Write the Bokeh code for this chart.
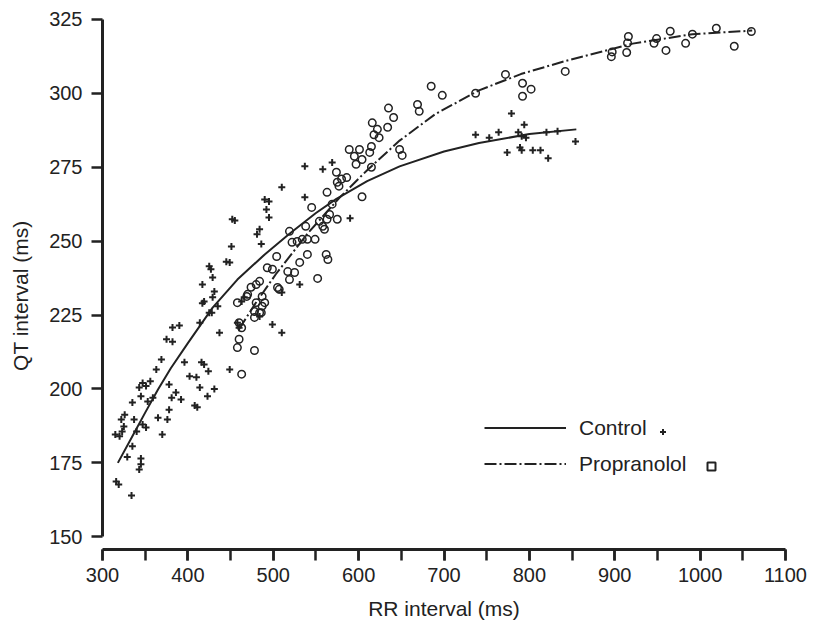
from bokeh.plotting import figure
from bokeh.models import Range1d, SingleIntervalTicker, Legend, LegendItem
from bokeh.core.properties import value
from bokeh.embed import file_html
from bokeh.resources import INLINE

# ---- data ----
control_rr = [316, 319, 334, 343, 345, 345, 335, 329, 315, 320, 323, 325, 322, 326, 335, 337, 340, 347, 351,
              343, 347, 351, 345, 356, 353, 359, 365, 370, 376, 378, 381, 378, 386, 392, 363, 369, 375, 382,
              382, 390, 396, 402, 410, 408, 411, 416, 419, 414, 423, 424, 431, 414, 437, 449, 417, 428, 435,
              499, 510, 417, 429, 419, 431, 425, 458, 463, 466, 531, 484, 460, 425, 427, 449, 451, 452, 484,
              481, 486, 495, 490, 495, 492, 510, 537, 558, 569, 537, 590, 737, 779, 794, 753, 764, 787, 791,
              796, 774, 789, 791, 804, 813, 822, 820, 833, 854, 455, 510, 445, 429]
control_qt = [168.7, 167.7, 164, 172.8, 174.5, 176.5, 180.6, 177, 184.6, 184, 185.6, 187.3, 189.7, 191.3, 195.4,
              189.7, 185.6, 188, 187, 200.5, 202, 201, 197.5, 202.6, 195.8, 197, 190.3, 184.6, 189.7, 193, 197,
              201.5, 198.8, 196.4, 206.6, 210, 216.8, 216, 220.8, 221.5, 209, 204.3, 204, 194.4, 193.8, 209,
              208.3, 200.5, 197.5, 206, 200, 222.4, 219, 206.6, 229, 225.8, 228, 221.8, 219, 235.3, 237.7,
              229.6, 233, 225.8, 222.4, 229.6, 231, 235.3, 224.5, 220.7, 241.5, 240.5, 242.8, 248.2, 257.4,
              254, 252.3, 249, 258, 264.1, 263.4, 260.7, 268.2, 275.3, 274.3, 276.6, 264.8, 257.7, 286, 293.2,
              289.4, 285, 286.8, 286.8, 285.5, 285, 280, 281.7, 280.7, 280.7, 280.7, 278, 286.8, 287.2, 283.7,
              257, 232.6, 243, 231]

prop_rr = [463, 458, 460, 478, 478, 486, 460, 463, 487, 458, 470, 474, 480, 484, 487, 490, 480, 478, 484, 505,
           507, 519, 525, 552, 469, 493, 499, 504, 517, 519, 522, 528, 534, 540, 549, 540, 562, 564, 545, 538,
           554, 560, 563, 563, 569, 574, 575, 531, 566, 558, 575, 580, 577, 586, 589, 601, 595, 604, 597, 613,
           615, 615, 616, 622, 624, 618, 635, 641, 634, 648, 651, 604, 669, 671, 698, 685, 737, 772, 792, 802,
           792, 842, 896, 897, 914, 916, 915, 946, 949, 960, 965, 983, 991, 1019, 1040, 1060]
prop_qt = [205, 214, 216.8, 213, 224.2, 225.8, 222.4, 220.7, 228, 229.2, 232, 234.4, 235.3, 236.4, 231.3, 229.2,
           229.2, 226.2, 225.8, 234.3, 233.7, 237, 239.4, 237.4, 231.3, 241, 240.5, 244.8, 239.7, 253.3, 249.6,
           249.9, 250.6, 250.6, 250.6, 245.5, 245.5, 243.8, 261.4, 255, 256.7, 254, 257.4, 266.5, 262.5, 273.3,
           269.9, 242.8, 259, 255, 257.4, 271, 268.6, 271.5, 281, 281, 278.7, 277.6, 276, 280, 282, 275, 290,
           287.8, 285, 286, 295, 291.8, 288.5, 281, 279, 265, 296.2, 293.9, 299.3, 302.4, 300, 306.4, 303.4,
           301.4, 299, 307.4, 312.4, 314, 313.8, 319.2, 317, 316.9, 318.5, 314.5, 321, 316.9, 320, 322, 315.9,
           320.9]

control_fit_rr = [318, 335, 350, 365, 380, 400, 429, 458, 490, 519, 550, 574, 610, 648, 700, 741, 800, 855]
control_fit_qt = [175, 184, 192, 199.8, 207, 215.5, 227.5, 237, 245.5, 252.5, 259.5, 264.3, 270.3, 275.3,
                  280.3, 283.2, 286.2, 287.8]

prop_fit_rr = [460, 480, 503, 540, 577, 610, 648, 690, 741, 790, 843, 921, 991, 1061]
prop_fit_qt = [220.3, 229.3, 238.8, 252.5, 264.5, 274, 284, 293, 301, 306.5, 311, 316.8, 320, 321.2]

x_ticks_interval = 100
y_ticks_interval = 25

INK = "#222222"
FONT = "Liberation Sans"

p = figure(width=812, height=626,
           x_range=Range1d(300, 1100), y_range=Range1d(145.7, 325.3),
           output_backend="svg", toolbar_location=None,
           min_border_left=102, min_border_right=27, min_border_top=18, min_border_bottom=77)
p.grid.visible = False
p.outline_line_color = None
p.background_fill_color = "white"
p.border_fill_color = "white"

# fitted curves
control_line = p.line(control_fit_rr, control_fit_qt, line_color=INK, line_width=2)
prop_line = p.line(prop_fit_rr, prop_fit_qt, line_color=INK, line_width=2, line_dash="12 3 2 3")

# data points
control_pts = p.scatter(control_rr, control_qt, marker="cross", size=7, line_color=INK, line_width=2)
prop_pts = p.scatter(prop_rr, prop_qt, marker="circle", size=7.5, fill_color=None, line_color=INK, line_width=1.5)
# legend key only (not a data point): a single NaN so nothing is drawn in the plot area
square_key = p.scatter(x=[float("nan")], y=[float("nan")], marker="square", size=8,
                       fill_color=None, line_color=INK, line_width=2)

# axes
xa = p.xaxis[0]
xa.ticker = SingleIntervalTicker(interval=x_ticks_interval, num_minor_ticks=2)
xa.bounds = (300, 1100)
xa.axis_label = "RR interval (ms)"
ya = p.yaxis[0]
ya.ticker = SingleIntervalTicker(interval=y_ticks_interval, num_minor_ticks=0)
ya.bounds = (150, 325)
ya.axis_label = "QT interval (ms)" + "\u00a0" * 4

for ax in (xa, ya):
    ax.axis_line_color = INK
    ax.axis_line_width = 3
    ax.major_tick_line_color = INK
    ax.major_tick_line_width = 2.5
    ax.major_tick_out = 11
    ax.major_tick_in = 0
    ax.minor_tick_line_color = INK
    ax.minor_tick_line_width = 2.5
    ax.minor_tick_out = 11
    ax.minor_tick_in = 0
    ax.major_label_text_font = FONT
    ax.major_label_text_font_size = "20px"
    ax.major_label_text_color = INK
    ax.axis_label_text_font = FONT
    ax.axis_label_text_font_size = "21px"
    ax.axis_label_text_font_style = "normal"
    ax.axis_label_text_color = INK
ya.minor_tick_line_color = None
xa.major_label_standoff = 7
xa.axis_label_standoff = 12
ya.major_label_standoff = 9
ya.axis_label_standoff = 14

# legend: lines + labels
leg = Legend(items=[LegendItem(label="Control", renderers=[control_line]),
                    LegendItem(label="Propranolol", renderers=[prop_line])],
             location=(382, 73.5), orientation="vertical",
             glyph_width=82, glyph_height=23, label_height=23, label_standoff=13,
             spacing=12, padding=0, margin=0,
             border_line_color=None, background_fill_alpha=0,
             label_text_font=FONT, label_text_font_size="21px", label_text_color=INK)
p.add_layout(leg)

# legend keys for the markers
leg_c = Legend(items=[LegendItem(label=value(""), renderers=[control_pts])],
               location=(552.5, 110.5), glyph_width=15, glyph_height=15, label_height=15,
               label_width=0, label_standoff=0, padding=0, margin=0, spacing=0,
               border_line_color=None, background_fill_alpha=0, label_text_font_size="1px")
p.add_layout(leg_c)
leg_s = Legend(items=[LegendItem(label=value(""), renderers=[square_key])],
               location=(599, 73), glyph_width=20, glyph_height=20, label_height=20,
               label_width=0, label_standoff=0, padding=0, margin=0, spacing=0,
               border_line_color=None, background_fill_alpha=0, label_text_font_size="1px")
p.add_layout(leg_s)

open("out.html", "w").write(file_html(p, INLINE))
